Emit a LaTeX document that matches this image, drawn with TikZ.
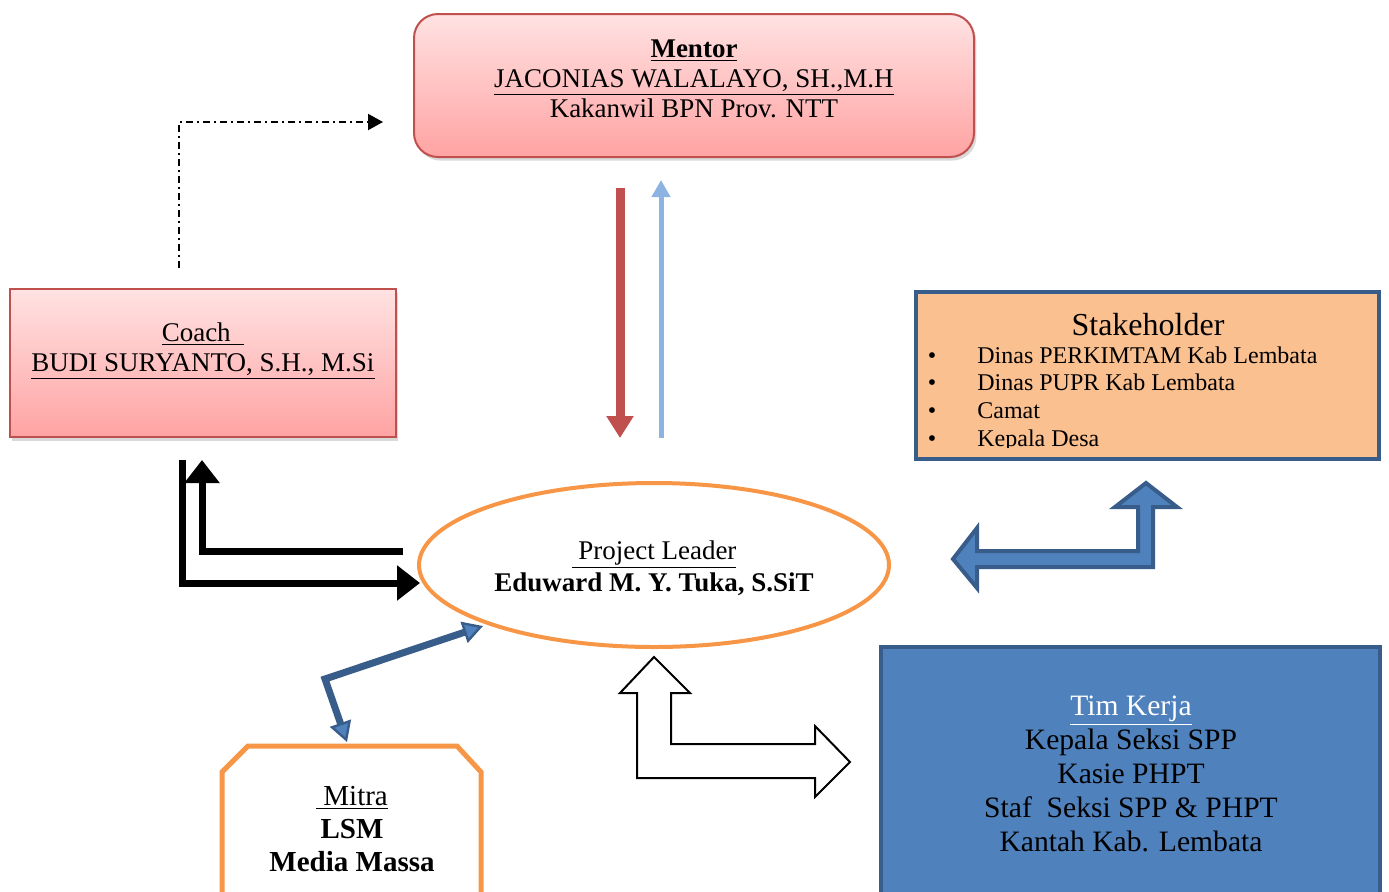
\documentclass[tikz,border=0pt]{standalone}
\usepackage{fontspec}
\setmainfont{Liberation Serif}
\usetikzlibrary{arrows.meta,shadows,shapes.geometric}
\definecolor{mred}{RGB}{192,80,77}
\definecolor{pinktop}{RGB}{255,226,226}
\definecolor{pinkbot}{RGB}{255,163,163}
\definecolor{shfill}{RGB}{250,192,144}
\definecolor{dblue}{RGB}{56,93,138}
\definecolor{tkblue}{RGB}{79,129,189}
\definecolor{orng}{RGB}{247,150,70}
\definecolor{lblue}{RGB}{141,179,226}
\begin{document}
\begin{tikzpicture}[x=0.5pt,y=-0.5pt,
  pinkbox/.style={draw=mred, line width=1pt, top color=pinktop, bottom color=pinkbot,
    drop shadow={shadow xshift=1.2pt, shadow yshift=-1.8pt, opacity=0.3}},
  txt/.style={align=center, inner sep=0pt},
  blockarrow/.style={line width=2pt, draw=dblue, fill=tkblue, line join=miter},
  thickblack/.style={line width=3.5pt, line join=miter, -{Triangle[length=11.5pt,width=17pt]}}
]
\useasboundingbox (0,0) rectangle (1389,891);

% Mentor
\node[pinkbox, rounded corners=12pt, minimum width=280pt, minimum height=71.5pt] (mentor) at (694,85.5) {};
\node[txt, font=\fontsize{13.5}{15}\selectfont] (mentortext) at (694,78.5)
  {\textbf{\underline{Mentor}}\\ \underline{JACONIAS WALALAYO, SH.,M.H}\\ Kakanwil BPN Prov. NTT};

% Coach
\node[pinkbox, minimum width=193pt, minimum height=74pt] (coach) at (203,363) {};
\node[txt, font=\fontsize{13.5}{15}\selectfont] (coachtext) at (203,351)
  {\underline{Coach\ \ }\\ \underline{BUDI SURYANTO, S.H., M.Si}};

% Stakeholder
\node[draw=dblue, line width=2pt, fill=shfill, minimum width=231.5pt, minimum height=83.5pt] (stake) at (1147.5,375.5) {};
\node[txt, font=\fontsize{16}{19}\selectfont] (staketitle) at (1148,325) {Stakeholder};
\begin{scope}
\clip (900,300) rectangle (1389,447);
\foreach \t [count=\i] in {Dinas PERKIMTAM Kab Lembata, Dinas PUPR Kab Lembata, Camat, Kepala Desa}{
  \node[anchor=base west, inner sep=0pt, font=\fontsize{12}{13.8}\selectfont] (item\i) at (977,{363+27.7*(\i-1)}) {\t};
  \node[anchor=base, inner sep=0pt, font=\fontsize{12}{13.8}\selectfont] (bul\i) at (932,{363+27.7*(\i-1)}) {\textbullet};
}
\end{scope}

% Tim Kerja
\node[draw=dblue, line width=2pt, fill=tkblue, minimum width=249.5pt, minimum height=128pt] (tim) at (1130.5,775) {};
\node[txt, font=\fontsize{14.8}{17}\selectfont] (timtext) at (1131,774)
  {{\color{white}\underline{Tim Kerja}}\\ Kepala Seksi SPP\\ Kasie PHPT\\ Staf\ \ Seksi SPP \& PHPT\\ Kantah Kab. Lembata};

% Project leader
\node[ellipse, draw=orng, line width=2pt, fill=white, minimum width=235pt, minimum height=82pt] (pl) at (654,565) {};
\node[txt, font=\fontsize{13.5}{16}\selectfont] (pltext) at (654,568)
  {\underline{\ Project Leader}\\ \textbf{Eduward M. Y. Tuka, S.SiT}};

% Mitra
\draw[orng, line width=2.5pt, line join=miter] (222,910) -- (222,772) -- (248,746) -- (457,746) -- (481,772) -- (481,910);
\node[txt, font=\fontsize{14.5}{16.5}\selectfont] (mitratext) at (352,829)
  {\underline{\ Mitra}\\ \textbf{LSM}\\ \textbf{Media Massa}};
\coordinate (mitratop) at (347,742);
\coordinate (plsw) at (483,626);

% Mentor <-> Project leader
\coordinate (r1) at (620,188); \coordinate (r2) at (620,438);
\coordinate (b1) at (661,438); \coordinate (b2) at (661,180);
\draw[mred, line width=4.5pt, -{Triangle[length=11pt,width=13pt]}] (r1) -- (r2);
\draw[lblue, line width=2.5pt, -{Triangle[length=8.5pt,width=9pt]}] (b1) -- (b2);

% Coach -> Mentor dash dot
\coordinate (d1) at (179,268); \coordinate (d2) at (383,122);
\draw[line width=1pt, dash pattern=on 3.5pt off 2pt on 1pt off 2pt, -{Triangle[length=7.5pt,width=8pt]}] (d1) |- (d2);

% Coach <-> Project leader
\coordinate (k1) at (403,551); \coordinate (k2) at (202,460);
\coordinate (k3) at (182,460); \coordinate (k4) at (420,583);
\draw[thickblack] (k1) -| (k2);
\draw[thickblack] (k3) |- (k4);

% Mitra <-> Project leader
\draw[dblue, line width=3.5pt, line join=miter,
  {Triangle[length=10pt,width=11pt,line width=1.2pt,fill=tkblue]}-{Triangle[length=10pt,width=11pt,line width=1.2pt,fill=tkblue]}]
  (plsw) -- (325,679) -- (mitratop);

% Stakeholder <-> Project leader block arrow
\draw[blockarrow] (953,559) -- (977,528) -- (977,551) -- (1138,551) -- (1138,507) -- (1115,507)
  -- (1146,483) -- (1177,507) -- (1153,507) -- (1153,567) -- (977,567) -- (977,588) -- cycle;

% Tim Kerja <-> Project leader block arrow
\draw[line width=1pt, fill=white, line join=miter] (654,657) -- (690,693) -- (671,693) -- (671,744) -- (815,744)
  -- (815,726) -- (850,762) -- (815,797) -- (815,778) -- (637,778) -- (637,693) -- (620,693) -- cycle;
\end{tikzpicture}
\end{document}
